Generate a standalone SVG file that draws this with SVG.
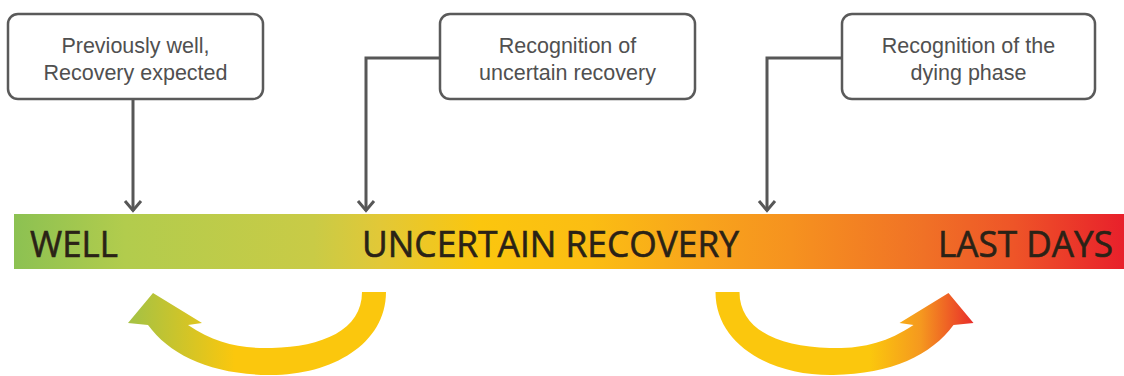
<svg xmlns="http://www.w3.org/2000/svg" width="1124" height="376" viewBox="0 0 1124 376">
<style>
.box{fill:#fff;stroke:#5a5a5a;stroke-width:2.5}
.bt{font-family:"Liberation Sans",Arial,sans-serif;font-size:21.5px;fill:#505050;text-anchor:middle}
.conn{fill:none;stroke:#575757;stroke-width:3}
.bar{font-family:"Open Sans","DejaVu Sans",sans-serif;font-size:37px;fill:#2a2216;stroke:#2a2216;stroke-width:0.6}
</style>
<defs>
<marker id="ah" markerUnits="userSpaceOnUse" markerWidth="16" markerHeight="22" viewBox="-13 -11 16 22" refX="0" refY="0" orient="auto">
<path d="M-10,-8 L-0.5,0 L-10,8" fill="none" stroke="#575757" stroke-width="3"/>
</marker>
<linearGradient id="barg" gradientUnits="userSpaceOnUse" x1="14" y1="0" x2="1124" y2="0">
<stop offset="0" stop-color="#8cc152"/>
<stop offset="0.1" stop-color="#b2cc4d"/>
<stop offset="0.27" stop-color="#c9cb46"/>
<stop offset="0.33" stop-color="#e2c837"/>
<stop offset="0.42" stop-color="#fbc60e"/>
<stop offset="0.52" stop-color="#fbbd13"/>
<stop offset="0.62" stop-color="#f8a41c"/>
<stop offset="0.7" stop-color="#f6921f"/>
<stop offset="0.82" stop-color="#f07126"/>
<stop offset="0.9" stop-color="#ee5528"/>
<stop offset="1" stop-color="#e8202b"/>
</linearGradient>
<linearGradient id="lg" gradientUnits="userSpaceOnUse" x1="135" y1="0" x2="235" y2="0">
<stop offset="0" stop-color="#a8c242"/>
<stop offset="1" stop-color="#fbc70d"/>
</linearGradient>
<linearGradient id="rg" gradientUnits="userSpaceOnUse" x1="870" y1="0" x2="972" y2="0">
<stop offset="0" stop-color="#fbc70d"/>
<stop offset="0.5" stop-color="#f5981f"/>
<stop offset="1" stop-color="#e9302a"/>
</linearGradient>
</defs>

<g id="bar">
<rect x="14" y="214" width="1110" height="55" fill="url(#barg)"/>
<text class="bar" x="30" y="257" textLength="88" lengthAdjust="spacingAndGlyphs">WELL</text>
<text class="bar" x="362" y="257" textLength="377" lengthAdjust="spacingAndGlyphs">UNCERTAIN RECOVERY</text>
<text class="bar" x="938" y="257" textLength="175" lengthAdjust="spacingAndGlyphs">LAST DAYS</text>
</g>

<g id="box1">
<rect class="box" x="8" y="14" width="255" height="85" rx="10"/>
<text class="bt" x="135.5" y="53">Previously well,</text>
<text class="bt" x="135.5" y="80">Recovery expected</text>
</g>
<g id="box2">
<rect class="box" x="440" y="14" width="255" height="85" rx="10"/>
<text class="bt" x="567.5" y="53">Recognition of</text>
<text class="bt" x="567.5" y="80">uncertain recovery</text>
</g>
<g id="box3">
<rect class="box" x="842" y="14" width="253" height="85" rx="10"/>
<text class="bt" x="968.5" y="53">Recognition of the</text>
<text class="bt" x="968.5" y="80">dying phase</text>
</g>

<g id="connectors">
<path class="conn" d="M133,100 V211" marker-end="url(#ah)"/>
<path class="conn" d="M440,58 H366 V211" marker-end="url(#ah)"/>
<path class="conn" d="M842,58 H767 V211" marker-end="url(#ah)"/>
</g>

<g id="cycle-left">
<path fill="url(#lg)" d="M386,292 C386,345 330,376 268,375 C210,374 170,355 148,325 L128,323 L153,293 L202,323 L188,325 C215,343 240,349 272,348 C322,347 362,330 362,292 Z"/>
</g>
<g id="cycle-right">
<path fill="url(#rg)" d="M715.5,292 C715.5,345 771.5,376 833.5,375 C891.5,374 931.5,355 953.5,325 L973.5,323 L948.5,293 L899.5,323 L913.5,325 C886.5,343 861.5,349 829.5,348 C779.5,347 739.5,330 739.5,292 Z"/>
</g>
</svg>
